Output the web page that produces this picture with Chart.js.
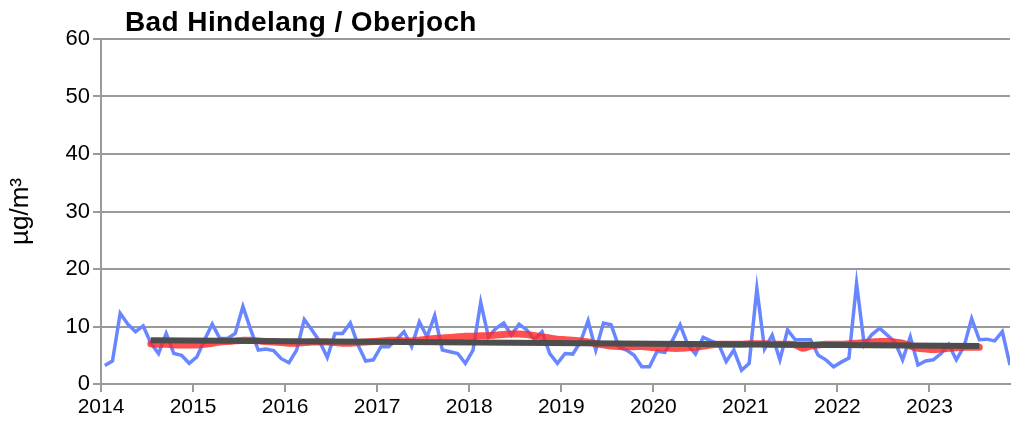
<!DOCTYPE html>
<html>
<head>
<meta charset="utf-8">
<script src="https://cdn.jsdelivr.net/npm/chart.js@4/dist/chart.umd.min.js"></script>
<style>
  html, body { margin: 0; padding: 0; background: #fff; }
  #wrap { width: 1011px; height: 434px; }
</style>
</head>
<body>
<div id="wrap"><canvas id="chart" width="1011" height="434"></canvas></div>
<script>
'use strict';

const title = 'Bad Hindelang / Oberjoch';
const yTitle = 'µg/m³';

// monthly means, Jan 2014 .. Nov 2023
const monthlyStart = [2014, 0];
const monthlyValues = [
  3.2, 4.0, 12.3, 10.4, 9.1, 10.1, 7.1, 5.3, 8.8, 5.3, 5.0, 3.6,
  4.7, 7.7, 10.4, 7.9, 7.9, 8.8, 13.5, 9.5, 5.9, 6.1, 5.8, 4.4,
  3.7, 5.9, 11.2, 9.4, 7.4, 4.6, 8.8, 8.8, 10.6, 6.8, 4.0, 4.2,
  6.5, 6.5, 7.7, 9.1, 6.5, 10.8, 8.2, 11.9, 5.9, 5.6, 5.3, 3.6,
  5.9, 14.2, 8.2, 9.7, 10.6, 8.5, 10.4, 9.4, 7.7, 9.1, 5.3, 3.6,
  5.3, 5.2, 7.3, 11.0, 5.9, 10.6, 10.3, 6.5, 5.9, 5.0, 3.0, 3.0,
  5.7, 5.5, 7.6, 10.3, 6.8, 5.2, 8.1, 7.5, 7.0, 3.9, 5.9, 2.4,
  3.6, 16.6, 6.1, 8.5, 4.2, 9.4, 7.7, 7.7, 7.7, 5.0, 4.2, 3.0,
  3.8, 4.5, 17.5, 6.8, 8.6, 9.7, 8.5, 7.3, 4.2, 8.2, 3.3, 4.0,
  4.2, 5.3, 6.9, 4.2, 6.5, 11.4, 7.7, 7.8, 7.5, 9.1, 3.3
];

// running annual mean, Jul 2014 .. Jul 2023
const runningStart = [2014, 6];
const runningValues = [
  7.0, 6.9, 6.9, 6.8, 6.8, 6.8,
  6.8, 6.9, 7.1, 7.3, 7.4, 7.5, 7.6, 7.6, 7.5, 7.4, 7.3, 7.2,
  7.1, 7.1, 7.2, 7.3, 7.3, 7.3, 7.2, 7.1, 7.1, 7.2, 7.3, 7.4,
  7.5, 7.6, 7.6, 7.5, 7.5, 7.6, 7.8, 7.9, 8.0, 8.1, 8.2, 8.3,
  8.3, 8.4, 8.4, 8.5, 8.6, 8.7, 8.7, 8.6, 8.4, 8.2, 8.0, 7.8,
  7.7, 7.6, 7.5, 7.3, 7.0, 6.8, 6.6, 6.5, 6.5, 6.5, 6.5, 6.4,
  6.3, 6.3, 6.2, 6.2, 6.3, 6.4, 6.6, 6.8, 6.9, 6.9, 6.9, 6.9,
  7.0, 7.0, 7.0, 6.9, 6.9, 6.9, 6.8, 6.2, 6.6, 6.8, 6.9, 6.9,
  6.9, 7.0, 7.1, 7.2, 7.3, 7.4, 7.4, 7.3, 7.1, 6.6, 6.2, 6.1,
  6.0, 6.1, 6.2, 6.3, 6.4, 6.4, 6.4
];

// trend line, Jul 2014 and Jul 2023
const trendStart = [2014, 6];
const trendEnd = [2023, 6];
const trendValues = [7.6, 6.6];

const yTicks = [0, 10, 20, 30, 40, 50, 60];
const years = [2014, 2015, 2016, 2017, 2018, 2019, 2020, 2021, 2022, 2023];

function monthX(year, month) {
  return year + (month + 0.5) / 12;
}

function series(start, values) {
  return values.map((v, i) => {
    const m = start[1] + i;
    return { x: monthX(start[0] + Math.floor(m / 12), m % 12), y: v };
  });
}

const trendData = [
  { x: monthX(trendStart[0], trendStart[1]), y: trendValues[0] },
  { x: monthX(trendEnd[0], trendEnd[1]), y: trendValues[1] }
];

const gridGray = '#9a9a9a';
const fontFamily = '"Liberation Sans", Arial, sans-serif';

const titlePlugin = {
  id: 'chartTitle',
  afterDraw(chart) {
    const c = chart.ctx;
    c.save();
    c.font = 'bold 28px ' + fontFamily;
    c.letterSpacing = '0.4px';
    c.fillStyle = '#000';
    c.textBaseline = 'alphabetic';
    c.fillText(title, 125, 31);
    c.restore();
  }
};

const ctx = document.getElementById('chart').getContext('2d');

const chart = new Chart(ctx, {
  type: 'line',
  data: {
    datasets: [
      {
        data: series(monthlyStart, monthlyValues),
        borderColor: 'rgb(104, 134, 255)',
        borderWidth: 3.5,
        pointRadius: 0,
        tension: 0,
        order: 3
      },
      {
        data: series(runningStart, runningValues),
        borderColor: 'rgba(255, 40, 40, 0.82)',
        borderWidth: 7,
        pointRadius: 0,
        tension: 0.3,
        borderCapStyle: 'round',
        order: 2
      },
      {
        data: trendData,
        borderColor: 'rgb(77, 77, 77)',
        borderWidth: 6,
        pointRadius: 0,
        order: 1
      }
    ]
  },
  options: {
    responsive: false,
    animation: false,
    layout: {
      padding: { top: 39, right: 1, left: 0, bottom: 0 }
    },
    plugins: {
      legend: { display: false },
      tooltip: { enabled: false }
    },
    scales: {
      x: {
        type: 'linear',
        min: 2014,
        max: monthX(2023, 10),
        afterBuildTicks: (scale) => {
          scale.ticks = years.map((y) => ({ value: y }));
        },
        afterFit: (scale) => { scale.height = 50; },
        ticks: {
          color: '#000',
          font: { family: fontFamily, size: 21 },
          maxRotation: 0,
          autoSkip: false,
          padding: 3,
          callback: (v) => String(v)
        },
        grid: {
          drawOnChartArea: false,
          color: gridGray,
          lineWidth: 2,
          tickLength: 8
        },
        border: { color: gridGray, width: 2 }
      },
      y: {
        min: 0,
        max: 60,
        afterBuildTicks: (scale) => {
          scale.ticks = yTicks.map((v) => ({ value: v }));
        },
        afterFit: (scale) => { scale.width = 101; },
        title: {
          display: true,
          text: yTitle,
          color: '#000',
          font: { family: fontFamily, size: 26 },
          padding: { top: 5, bottom: 0 }
        },
        ticks: {
          color: '#000',
          font: { family: fontFamily, size: 22 },
          padding: 3
        },
        grid: {
          color: gridGray,
          lineWidth: 2,
          tickLength: 8
        },
        border: { color: gridGray, width: 2 }
      }
    }
  },
  plugins: [titlePlugin]
});
</script>
</body>
</html>
